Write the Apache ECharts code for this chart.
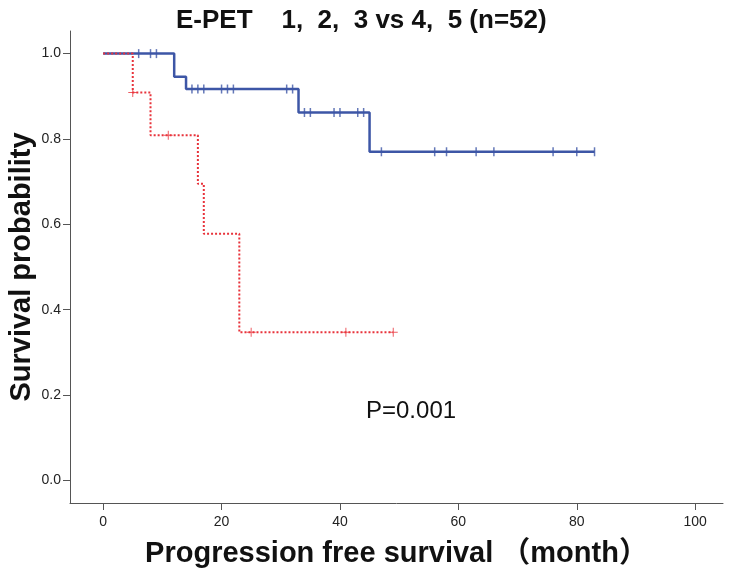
<!DOCTYPE html>
<html>
<head>
<meta charset="utf-8">
<script src="https://cdn.jsdelivr.net/npm/echarts@6/dist/echarts.min.js"></script>
<style>html,body{margin:0;padding:0;background:#fff}#c{width:735px;height:580px}</style>
</head>
<body>
<div id="c"></div>
<script>
// Group 1 (E-PET 1,2,3) - blue solid
var blueTimes = [0, 12, 14, 33, 45, 83];
var blueSurv  = [1.0, 0.946, 0.917, 0.862, 0.770, 0.770];
var blueCensor = [6, 8, 9, 15, 16, 17, 20, 21, 22, 31, 32, 34, 35, 39, 40, 43, 44, 47, 56, 58, 63, 66, 76, 80, 83];
// Group 2 (E-PET 4,5) - red dotted
var redTimes = [0, 5, 8, 16, 17, 23, 49];
var redSurv  = [1.0, 0.909, 0.809, 0.695, 0.578, 0.347, 0.347];
var redCensor = [5, 11, 25, 41, 49];
var xTicks = [0, 20, 40, 60, 80, 100];
var yTicks = [0, 0.2, 0.4, 0.6, 0.8, 1.0];
var titleText = 'E-PET    1,  2,  3 vs 4,  5 (n=52)';
var pText = 'P=0.001';

function levelAt(times, surv, t) {
  var v = surv[0];
  for (var i = 0; i < times.length; i++) { if (times[i] <= t) v = surv[i]; }
  return v;
}
function pairs(times, surv) { return times.map(function (t, i) { return [t, surv[i]]; }); }
function censorPts(c, times, surv) { return c.map(function (t) { return [t, levelAt(times, surv, t)]; }); }

var FONT = '"Liberation Sans", Arial, sans-serif';
var BLUE = '#3d56a6', RED = '#e8333b', AX = '#555';
var plus = 'path://M4,0L5,0L5,4L9,4L9,5L5,5L5,9L4,9L4,5L0,5L0,4L4,4Z';

var chart = echarts.init(document.getElementById('c'), null, {renderer: 'canvas'});
chart.setOption({
  animation: false,
  backgroundColor: '#fff',
  title: {
    text: titleText, left: 171, top: 3,
    textStyle: {fontFamily: FONT, fontWeight: 'bold', fontSize: 26, color: '#111'}
  },
  grid: {left: 70, right: 12, top: 31, bottom: 77, outerBoundsMode: 'none', containLabel: false},
  xAxis: {
    type: 'value', min: -5.6, max: 104.7,
    name: 'Progression free survival \uFF08month\uFF09', nameLocation: 'middle', nameGap: 36,
    nameMoveOverlap: false,
    nameTextStyle: {fontFamily: '"Liberation Sans", Arial, "Noto Sans CJK SC", sans-serif', fontWeight: 'bold', fontSize: 29, color: '#111'},
    axisLine: {show: true, onZero: false, lineStyle: {color: AX, width: 1}},
    axisTick: {show: true, length: 7, customValues: xTicks, lineStyle: {color: AX}},
    axisLabel: {customValues: xTicks, fontFamily: FONT, fontSize: 14, color: '#222', margin: 12},
    splitLine: {show: false}
  },
  yAxis: {
    type: 'value', min: -0.053, max: 1.053,
    name: 'Survival probability', nameLocation: 'middle', nameGap: 34, nameRotate: 90,
    nameMoveOverlap: false,
    nameTextStyle: {fontFamily: FONT, fontWeight: 'bold', fontSize: 29, color: '#111'},
    axisLine: {show: true, onZero: false, lineStyle: {color: AX, width: 1}},
    axisTick: {show: true, length: 7, customValues: yTicks, lineStyle: {color: AX}},
    axisLabel: {customValues: yTicks, fontFamily: FONT, fontSize: 14, color: '#222', margin: 9,
      formatter: function (v) { return v.toFixed(1); }},
    splitLine: {show: false}
  },
  graphic: [{
    type: 'text', left: 366, top: 399, silent: true,
    style: {text: pText, fontFamily: FONT, fontSize: 24, fill: '#111'}
  }],
  series: [
    {type: 'line', step: 'end', data: pairs(blueTimes, blueSurv), symbol: 'none',
      lineStyle: {color: BLUE, width: 2.5}, z: 2},
    {type: 'scatter', data: censorPts(blueCensor, blueTimes, blueSurv), symbol: 'rect', symbolSize: [1.5, 9],
      itemStyle: {color: BLUE}, z: 3},
    {type: 'line', step: 'end', data: pairs(redTimes, redSurv), symbol: 'none',
      lineStyle: {color: RED, width: 2, type: [2, 2]}, z: 4},
    {type: 'scatter', data: censorPts(redCensor, redTimes, redSurv), symbol: plus, symbolSize: 9,
      itemStyle: {color: RED}, z: 5}
  ]
});
</script>
</body>
</html>
